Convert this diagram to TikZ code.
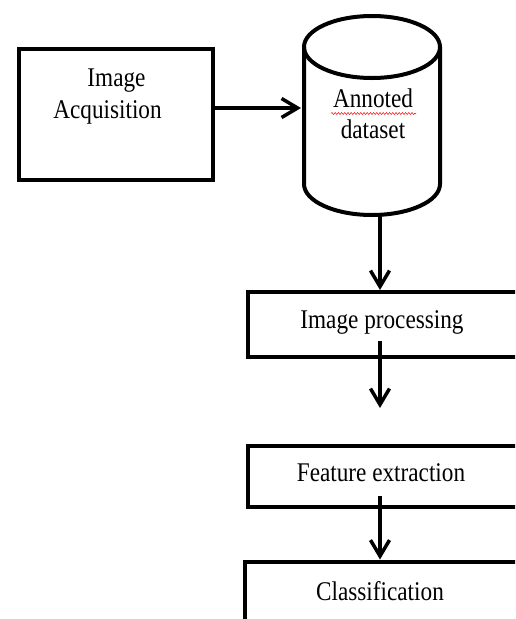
\documentclass[tikz,border=0pt]{standalone}
\usepackage{fontspec}
\setmainfont{Liberation Serif}
\newfontfamily\diagfont[FakeStretch=0.86]{Liberation Serif}
\usetikzlibrary{arrows.meta,decorations.pathmorphing}
\tikzset{
  boxstyle/.style={draw=black, line width=4pt, rectangle, inner sep=0pt},
  lbl/.style={font=\diagfont\fontsize{27}{31}\selectfont, inner sep=0pt, anchor=base},
  arr/.style={draw=black, line width=3.5pt, -{Straight Barb[length=16pt,width=19pt]}},
  cylstyle/.style={draw=black, line width=4pt}
}
\begin{document}
\begin{tikzpicture}[x=1pt,y=-1pt]
\useasboundingbox (0,0) rectangle (515,619);
\fill[white] (0,0) rectangle (515,619);
\clip (0,0) rectangle (515,619);
% boxes
\node[boxstyle, minimum width=194pt, minimum height=131pt] (acq) at (116,114.5) {};
\node[boxstyle, minimum width=300pt, minimum height=65pt] (improc) at (398,324.5) {};
\node[boxstyle, minimum width=300pt, minimum height=61pt] (feat) at (398,476.5) {};
\node[boxstyle, minimum width=300pt, minimum height=120pt] (cls) at (395,621.5) {};
% cylinder
\draw[cylstyle] (372,47) ellipse [x radius=68, y radius=31];
\draw[cylstyle] (304,47) -- (304,184) arc[start angle=180, end angle=0, x radius=68, y radius=31] -- (440,47);
\coordinate (dbleft) at (301,108);
\coordinate (dbbot) at (380,215);
% texts
\node[lbl] (t1) at (116.5,86) {Image};
\node[lbl] (t2) at (107.5,118) {Acquisition};
\node[lbl] (t3) at (373,107) {Annoted};
\node[lbl] (t4) at (373,138) {dataset};
\node[lbl] (t5) at (382,328) {Image processing};
\node[lbl] (t6) at (381,481.5) {Feature extraction};
\node[lbl] (t7) at (380,600) {Classification};
% spellcheck underline
\coordinate (w1) at (331,113.5);
\coordinate (w2) at (416,113.5);
\draw[red!85, line width=0.6pt, decorate, decoration={snake, amplitude=1pt, segment length=3.2pt}] (w1) -- (w2);
% connectors
\coordinate (p1) at (380,341);
\coordinate (p2) at (380,408);
\coordinate (p3) at (380,496);
\draw[arr] (acq.east |- dbleft) -- (dbleft);
\draw[arr] (dbbot) -- (dbbot |- improc.north);
\draw[arr] (p1) -- (p2);
\draw[arr] (p3) -- (p3 |- cls.north);
\end{tikzpicture}
\end{document}
